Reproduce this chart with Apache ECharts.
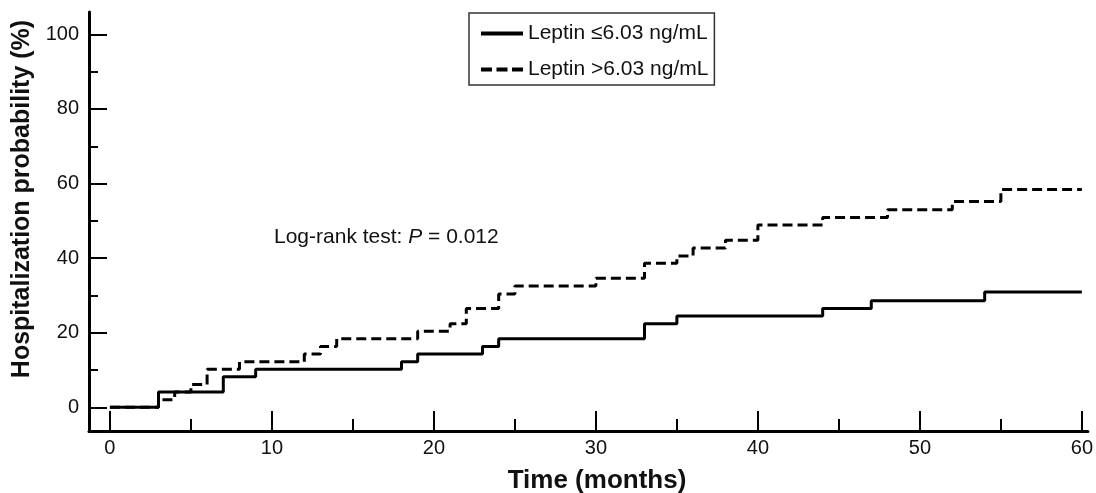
<!DOCTYPE html>
<html>
<head>
<meta charset="utf-8">
<title>Hospitalization probability</title>
<script src="https://cdn.jsdelivr.net/npm/echarts@6/dist/echarts.min.js"></script>
<style>
  html, body { margin: 0; padding: 0; background: #fff; }
  #chart { width: 1096px; height: 493px; }
</style>
</head>
<body>
<div id="chart"></div>
<script>
// step points: time (months) where the curve jumps, value (%) after the jump
var lowTimes = [0, 3, 7, 9, 18, 19, 23, 24, 33, 35, 44, 47, 54, 60];
var lowValues = [0, 4.1, 8.2, 10.2, 12.2, 14.3, 16.3, 18.4, 22.4, 24.5, 26.5, 28.6, 30.9, 30.9];

var highTimes = [0, 3, 4, 5, 6, 8, 12, 13, 14, 19, 21, 22, 24, 25, 30, 33, 35, 36, 38, 40, 44, 48, 52, 55, 60];
var highValues = [0, 2.0, 4.1, 6.1, 10.2, 12.2, 14.3, 16.3, 18.4, 20.4, 22.4, 26.5, 30.4, 32.5, 34.6, 38.6, 40.6, 42.7, 44.8, 48.9, 50.9, 53.0, 55.2, 58.4, 58.4];

var xMajorTicks = [0, 10, 20, 30, 40, 50, 60];
var xMinorTicks = [5, 15, 25, 35, 45, 55];
var yMajorTicks = [0, 20, 40, 60, 80, 100];
var yMinorTicks = [10, 30, 50, 70, 90];

var lowName = 'Leptin \u22646.03 ng/mL';
var highName = 'Leptin >6.03 ng/mL';

var FONT = "'Liberation Sans', Arial, sans-serif";

// legend keys drawn as plain bars (solid / three dashes)
var solidIcon = 'path://M0,0h42v4h-42z';
var dashIcon = 'path://M0,0h11v4h-11z M15.5,0h11v4h-11z M31,0h11v4h-11z';

function toPairs(xs, ys) {
    var out = [];
    for (var i = 0; i < xs.length; i++) {
        out.push([xs[i], ys[i]]);
    }
    return out;
}

var chart = echarts.init(document.getElementById('chart'), null, { renderer: 'canvas' });

var xRange = { min: -1.29, max: 60.37 };
var yRange = { min: -6.35, max: 106 };

var option = {
    animation: false,
    backgroundColor: '#fff',
    grid: { left: 89, right: 4, top: 12, bottom: 62 },
    legend: {
        orient: 'vertical',
        left: 469,
        top: 13,
        padding: [10, 6, 5, 12],
        itemWidth: 42,
        itemHeight: 4,
        itemGap: 15,
        borderColor: '#333',
        borderWidth: 1.5,
        borderRadius: 0,
        textStyle: { fontFamily: FONT, fontSize: 21, color: '#111', lineHeight: 21 },
        data: [
            { name: lowName, icon: solidIcon, itemStyle: { color: '#000' } },
            { name: highName, icon: dashIcon, itemStyle: { color: '#000' } }
        ]
    },
    xAxis: [
        {
            type: 'value',
            min: xRange.min,
            max: xRange.max,
            splitLine: { show: false },
            axisLine: { show: true, onZero: false, lineStyle: { color: '#000', width: 3 } },
            axisTick: { show: true, inside: true, length: 20, customValues: xMajorTicks, lineStyle: { color: '#000', width: 2 } },
            axisLabel: { customValues: xMajorTicks, margin: 7, fontFamily: FONT, fontSize: 20, color: '#111' }
        },
        {
            type: 'value',
            position: 'bottom',
            min: xRange.min,
            max: xRange.max,
            splitLine: { show: false },
            axisLine: { show: false, onZero: false },
            axisTick: { show: true, inside: true, length: 12, customValues: xMinorTicks, lineStyle: { color: '#000', width: 2 } },
            axisLabel: { show: false }
        }
    ],
    yAxis: [
        {
            type: 'value',
            min: yRange.min,
            max: yRange.max,
            splitLine: { show: false },
            axisLine: { show: true, onZero: false, lineStyle: { color: '#000', width: 3 } },
            axisTick: { show: true, inside: true, length: 18, customValues: yMajorTicks, lineStyle: { color: '#000', width: 2 } },
            axisLabel: { customValues: yMajorTicks, margin: 10, fontFamily: FONT, fontSize: 20, color: '#111' }
        },
        {
            type: 'value',
            position: 'left',
            min: yRange.min,
            max: yRange.max,
            splitLine: { show: false },
            axisLine: { show: false, onZero: false },
            axisTick: { show: true, inside: true, length: 9, customValues: yMinorTicks, lineStyle: { color: '#000', width: 2 } },
            axisLabel: { show: false }
        }
    ],
    graphic: [
        {
            type: 'text',
            x: 22,
            y: 199,
            rotation: Math.PI / 2,
            style: {
                text: 'Hospitalization probability (%)',
                font: 'bold 25px ' + FONT,
                fill: '#111',
                align: 'center',
                verticalAlign: 'middle'
            }
        },
        {
            type: 'text',
            x: 597,
            y: 481,
            style: {
                text: 'Time (months)',
                font: 'bold 26px ' + FONT,
                fill: '#111',
                align: 'center',
                verticalAlign: 'middle'
            }
        },
        {
            type: 'text',
            x: 274,
            y: 237,
            style: {
                text: 'Log-rank test: {i|P} = 0.012',
                font: '21px ' + FONT,
                fill: '#111',
                align: 'left',
                verticalAlign: 'middle',
                rich: {
                    i: { fontStyle: 'italic', fontFamily: FONT, fontSize: 21, fill: '#111' }
                }
            }
        }
    ],
    series: [
        {
            name: lowName,
            type: 'line',
            step: 'end',
            symbol: 'none',
            xAxisIndex: 0,
            yAxisIndex: 0,
            lineStyle: { color: '#000', width: 3, type: 'solid' },
            itemStyle: { color: '#000' },
            data: toPairs(lowTimes, lowValues)
        },
        {
            name: highName,
            type: 'line',
            step: 'end',
            symbol: 'none',
            xAxisIndex: 0,
            yAxisIndex: 0,
            lineStyle: { color: '#000', width: 3, type: [10, 5] },
            itemStyle: { color: '#000' },
            data: toPairs(highTimes, highValues)
        }
    ]
};

chart.setOption(option);
</script>
</body>
</html>
